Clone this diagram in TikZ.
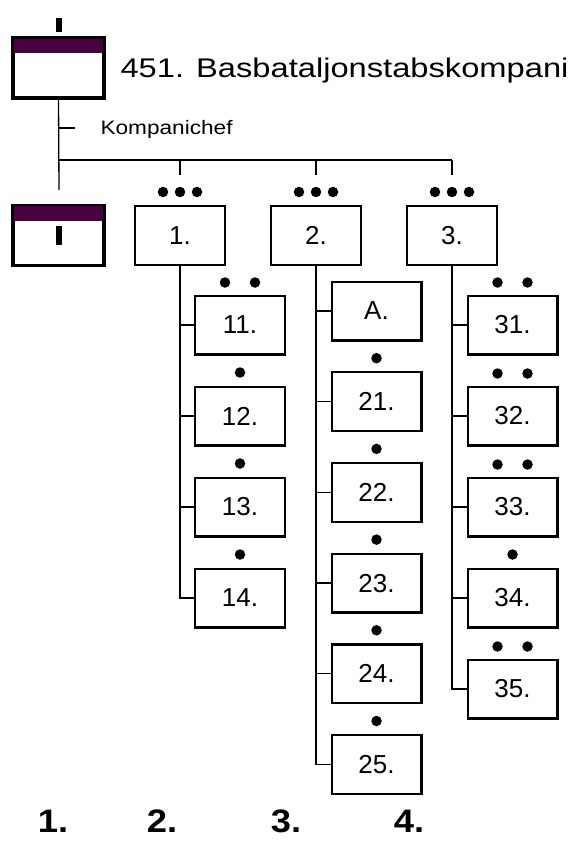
\documentclass[tikz,border=0pt]{standalone}
\usepackage{fontspec}
\setmainfont{Liberation Sans}
\newfontfamily\widefont[FakeStretch=1.21]{Liberation Sans}
\newfontfamily\kcfont[FakeStretch=1.16]{Liberation Sans}
\newfontfamily\midfont[FakeStretch=1.12]{Liberation Sans}
\definecolor{bandpurple}{RGB}{72,0,64}
\begin{document}
\begin{tikzpicture}[x=1pt,y=-1pt,
  unitbox/.style={draw=black,line width=2.2pt,fill=white,minimum width=89.8pt,minimum height=58.8pt,inner sep=0pt,font=\fontsize{26}{30}\selectfont},
  conn/.style={line width=1.3pt},
  pip/.style={fill=black,circle,minimum size=10.5pt,inner sep=0pt},
  bigno/.style={font=\midfont\bfseries\fontsize{32.5}{38}\selectfont}
]
\useasboundingbox (0,0) rectangle (576,843);
% top unit
\node[unitbox] (top) at (58.5,68) {};
\fill[bandpurple] ([xshift=1pt,yshift=-1pt]top.north west) rectangle ([xshift=-1pt,yshift=-16pt]top.north east);
\draw[line width=2.2pt] (top.north west) rectangle (top.south east);
\node[fill=black,minimum width=5.5pt,minimum height=14.5pt,inner sep=0pt] (topsym) at (59,25) {};
\node[anchor=west,font=\widefont\fontsize{27}{32}\selectfont] (title) at (117,71) {451. Basbataljonstabskompani};
% connectors from top
\coordinate (j0) at (59,190);
\coordinate (tick) at (75,128);
\coordinate (hl) at (59,160);
\coordinate (d1) at (180,175);
\coordinate (d2) at (316,175);
\coordinate (d3) at (452,175);
\draw[conn] (top.south) -- (j0);
\draw[conn] (tick) -- (59,128);
\node[anchor=west,font=\kcfont\fontsize{19.5}{24}\selectfont] (kc) at (97,129) {Kompanichef};
\draw[conn] (hl) -- (d3 |- hl);
\draw[conn] (d1 |- hl) -- (d1);
\draw[conn] (d2 |- hl) -- (d2);
\draw[conn] (d3 |- hl) -- (d3);
% left staff box
\node[unitbox] (lst) at (58.5,235.5) {};
\fill[bandpurple] ([xshift=1pt,yshift=-1pt]lst.north west) rectangle ([xshift=-1pt,yshift=-16pt]lst.north east);
\draw[line width=2.2pt] (lst.north west) rectangle (lst.south east);
\node[fill=black,minimum width=5.5pt,minimum height=19pt,inner sep=0pt] (lsym) at (59,235) {};
% platoons
\node[unitbox] (p1) at (180,235.5) {1.};
\node[unitbox] (p2) at (316,235.5) {2.};
\node[unitbox] (p3) at (452,235.5) {3.};
\foreach \p in {p1,p2,p3}{
  \node[pip] at ([yshift=13pt]\p.north) {};
  \node[pip] at ([xshift=-17pt,yshift=13pt]\p.north) {};
  \node[pip] at ([xshift=17pt,yshift=13pt]\p.north) {};
}
% column 1
\node[unitbox] (b11) at (240,325) {11.};
\node[unitbox] (b12) at (240,416) {12.};
\node[unitbox] (b13) at (240,507) {13.};
\node[unitbox] (b14) at (240,598) {14.};
% column 2
\node[unitbox] (bA) at (376.5,311) {A.};
\node[unitbox] (b21) at (376.5,401.7) {21.};
\node[unitbox] (b22) at (376.5,492.4) {22.};
\node[unitbox] (b23) at (376.5,583.1) {23.};
\node[unitbox] (b24) at (376.5,673.8) {24.};
\node[unitbox] (b25) at (376.5,764.5) {25.};
% column 3
\node[unitbox] (b31) at (512.5,325) {31.};
\node[unitbox] (b32) at (512.5,416) {32.};
\node[unitbox] (b33) at (512.5,507) {33.};
\node[unitbox] (b34) at (512.5,598) {34.};
\node[unitbox] (b35) at (512.5,689) {35.};
% pips
\foreach \b in {b11,b31,b32,b33,b35}{
  \node[pip] at ([xshift=-15pt,yshift=12pt]\b.north) {};
  \node[pip] at ([xshift=15pt,yshift=12pt]\b.north) {};
}
\foreach \b in {b12,b13,b14,b21,b22,b23,b24,b25,b34}{
  \node[pip] at ([yshift=13pt]\b.north) {};
}
% connectors
\draw[conn] (p1.south) |- (b14.west);
\foreach \b in {b11,b12,b13}{ \draw[conn] (p1.south |- \b.west) -- (\b.west); }
\draw[conn] (p2.south) |- (b25.west);
\foreach \b in {bA,b21,b22,b23,b24}{ \draw[conn] (p2.south |- \b.west) -- (\b.west); }
\draw[conn] (p3.south) |- (b35.west);
\foreach \b in {b31,b32,b33,b34}{ \draw[conn] (p3.south |- \b.west) -- (\b.west); }
% bottom labels
\node[bigno] (n1) at (53,821) {1.};
\node[bigno] (n2) at (162,821) {2.};
\node[bigno] (n3) at (286,821) {3.};
\node[bigno] (n4) at (409,821) {4.};
\end{tikzpicture}
\end{document}
